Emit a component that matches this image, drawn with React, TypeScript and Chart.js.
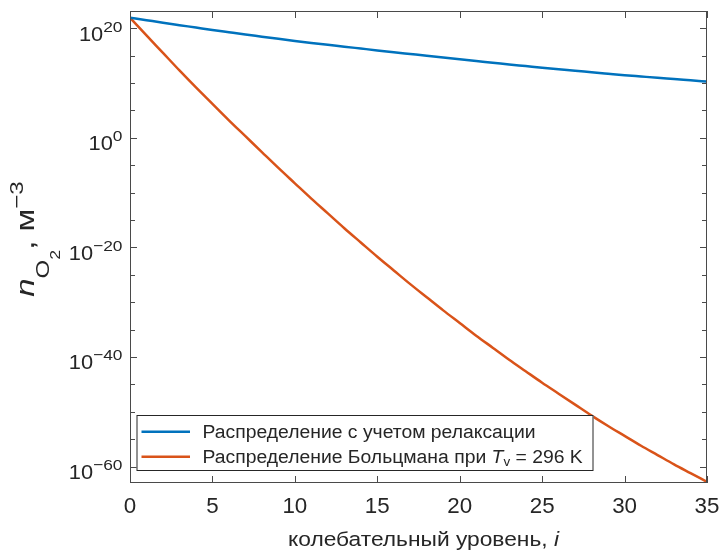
import React, { useEffect, useRef } from "react";
import { Chart, registerables } from "chart.js";

Chart.register(...registerables);

// Vibrational levels i
const levels = [
  0, 1, 2, 3, 4, 5, 6, 7, 8, 9, 10, 11, 12, 13, 14, 15, 16, 17, 18, 19, 20, 21, 22, 23, 24, 25, 26, 27,
  28, 29, 30, 31, 32, 33, 34, 35,
];

// Distribution with relaxation taken into account (m^-3)
const relaxedValues = [
  8.5e21, 2.95e21, 1.02e21, 3.7e20, 1.35e20, 4.9e19, 1.9e19, 7.4e18, 2.95e18, 1.17e18, 4.8e17, 2.1e17,
  9.5e16, 4.4e16, 2.0e16, 9.1e15, 4.3e15, 2.0e15, 9.3e14, 4.4e14, 2.1e14, 1.02e14, 5.1e13, 2.5e13,
  1.26e13, 6.3e12, 3.3e12, 1.8e12, 9.5e11, 5.1e11, 2.75e11, 1.58e11, 9.1e10, 5.4e10, 3.16e10, 1.86e10,
];

// Boltzmann distribution at Tv = 296 K (m^-3)
const boltzmannValues = [
  8.5e21, 5.0e18, 3.2e15, 2.0e12, 1.6e9, 1.6e6, 1.6e3, 2.0, 2.5e-3, 3.2e-6, 5.0e-9, 7.9e-12, 1.6e-14,
  3.2e-17, 7.9e-20, 2.0e-22, 6.3e-25, 2.0e-27, 7.9e-30, 3.2e-32, 1.6e-34, 7.9e-37, 5.0e-39, 3.2e-41,
  2.5e-43, 2.0e-45, 2.0e-47, 2.0e-49, 2.0e-51, 2.5e-53, 4.0e-55, 6.3e-57, 1.26e-58, 2.5e-60, 6.3e-62,
  1.6e-63,
];

const xTickValues = [0, 5, 10, 15, 20, 25, 30, 35];
const xTickLabels = ["0", "5", "10", "15", "20", "25", "30", "35"];
const yMajorTicks = [1e20, 1, 1e-20, 1e-40, 1e-60];
const yMajorExponents = ["20", "0", "\u221220", "\u221240", "\u221260"];
const yMinorTicks = [1e15, 1e10, 1e5, 1e-5, 1e-10, 1e-15, 1e-25, 1e-30, 1e-35, 1e-45, 1e-50, 1e-55];

const seriesLabels = ["Распределение с учетом релаксации", "Распределение Больцмана при "];
const xTitle = "колебательный уровень, ";

const BLUE = "#0072BD";
const ORANGE = "#D95319";
const TEXT = "#262626";
const AXIS = "#4a4a4a";
const FONT = '"Liberation Sans", Arial, Helvetica, sans-serif';

const f = (size: number, italic = false) => `${italic ? "italic " : ""}${size}px ${FONT}`;

// draws text horizontally stretched by sx, returns advance width
function stretchText(ctx: CanvasRenderingContext2D, text: string, x: number, y: number, sx: number) {
  ctx.save();
  ctx.translate(x, y);
  ctx.scale(sx, 1);
  ctx.fillText(text, 0, 0);
  ctx.restore();
  return ctx.measureText(text).width * sx;
}

const decorPlugin = {
  id: "matlabDecor",
  afterDraw(chart: any) {
    const { ctx, chartArea: a, scales } = chart;
    const xs = scales.x;
    const ys = scales.y;
    ctx.save();

    // axes box
    ctx.strokeStyle = AXIS;
    ctx.lineWidth = 1;
    ctx.strokeRect(a.left + 0.5, a.top + 0.5, a.right - a.left - 1, a.bottom - a.top - 1);

    // ticks (inward, all four sides)
    ctx.beginPath();
    xTickValues.forEach((v) => {
      const px = Math.round(xs.getPixelForValue(v)) + 0.5;
      ctx.moveTo(px, a.bottom);
      ctx.lineTo(px, a.bottom - 7);
      ctx.moveTo(px, a.top);
      ctx.lineTo(px, a.top + 7);
    });
    yMajorTicks.forEach((v) => {
      const py = Math.round(ys.getPixelForValue(v)) + 0.5;
      ctx.moveTo(a.left, py);
      ctx.lineTo(a.left + 7, py);
      ctx.moveTo(a.right, py);
      ctx.lineTo(a.right - 7, py);
    });
    yMinorTicks.forEach((v) => {
      const py = Math.round(ys.getPixelForValue(v)) + 0.5;
      ctx.moveTo(a.left, py);
      ctx.lineTo(a.left + 5, py);
      ctx.moveTo(a.right, py);
      ctx.lineTo(a.right - 5, py);
    });
    ctx.stroke();

    ctx.fillStyle = TEXT;
    ctx.textBaseline = "alphabetic";

    // x tick labels
    ctx.textAlign = "left";
    ctx.font = f(21.5);
    xTickValues.forEach((v, i) => {
      const w = ctx.measureText(xTickLabels[i]).width * 1.04;
      stretchText(ctx, xTickLabels[i], xs.getPixelForValue(v) - w / 2, a.bottom + 30.3, 1.04);
    });

    // y tick labels 10^k
    const ysx = 1.12;
    const rightEdge = a.left - 7.5;
    yMajorTicks.forEach((v, i) => {
      const py = ys.getPixelForValue(v);
      ctx.font = f(15.5);
      const supW = ctx.measureText(yMajorExponents[i]).width * ysx;
      ctx.font = f(19.5);
      const mainW = ctx.measureText("10").width * ysx;
      const x0 = rightEdge - supW - mainW;
      stretchText(ctx, "10", x0, py + 12.4, ysx);
      ctx.font = f(15.5);
      stretchText(ctx, yMajorExponents[i], x0 + mainW, py + 3.4, ysx);
    });

    // x title
    const xsx = 1.11;
    ctx.font = f(20.5);
    const tW = ctx.measureText(xTitle).width * xsx;
    ctx.font = f(20.5, true);
    const iW = ctx.measureText("i").width * xsx;
    const cx = (a.left + a.right) / 2 + 5;
    const tx0 = cx - (tW + iW) / 2;
    ctx.font = f(20.5);
    stretchText(ctx, xTitle, tx0, a.bottom + 62.5, xsx);
    ctx.font = f(20.5, true);
    stretchText(ctx, "i", tx0 + tW, a.bottom + 62.5, xsx);

    // y title (rotated)
    const parts = [
      { t: "n", font: f(26, true), dy: 0 },
      { t: "O", font: f(19), dy: 15 },
      { t: "2", font: f(14), dy: 26.5 },
      { t: ", м", font: f(26), dy: 0 },
      { t: "\u22123", font: f(19), dy: -11 },
    ];
    let total = 0;
    parts.forEach((p) => {
      ctx.font = p.font;
      total += ctx.measureText(p.t).width;
    });
    ctx.save();
    ctx.translate(33.5, (a.top + a.bottom) / 2 - 8);
    ctx.rotate(-Math.PI / 2);
    ctx.scale(1.27, 1);
    let px = -total / 2;
    parts.forEach((p) => {
      ctx.font = p.font;
      ctx.fillText(p.t, px, p.dy);
      px += ctx.measureText(p.t).width;
    });
    ctx.restore();

    // legend
    const lx = a.left + 6.5;
    const lb = a.bottom - 12;
    const lw = 457;
    const lh = 56;
    const lt = lb - lh;
    ctx.fillStyle = "#ffffff";
    ctx.fillRect(lx, lt, lw, lh);
    ctx.strokeStyle = TEXT;
    ctx.lineWidth = 1;
    ctx.strokeRect(lx + 0.5, lt + 0.5, lw - 1, lh - 1);
    const rows = [lt + 16.7, lt + 41.7];
    const colors = [BLUE, ORANGE];
    rows.forEach((ry, k) => {
      ctx.strokeStyle = colors[k];
      ctx.lineWidth = 2.5;
      ctx.beginPath();
      ctx.moveTo(lx + 5, ry);
      ctx.lineTo(lx + 53.5, ry);
      ctx.stroke();
    });
    ctx.fillStyle = TEXT;
    const textX = lx + 66;
    const lsx = 1.03;
    ctx.font = f(18.8);
    stretchText(ctx, seriesLabels[0], textX, rows[0] + 6.6, lsx);
    let sx = textX + stretchText(ctx, seriesLabels[1], textX, rows[1] + 6.6, lsx);
    ctx.font = f(18.8, true);
    sx += stretchText(ctx, "T", sx, rows[1] + 6.6, lsx);
    ctx.font = f(13);
    sx += stretchText(ctx, "v", sx, rows[1] + 9.5, lsx);
    ctx.font = f(18.8);
    stretchText(ctx, " = 296 K", sx, rows[1] + 6.6, lsx);

    ctx.restore();
  },
};

export default function App() {
  const ref = useRef<HTMLCanvasElement>(null);
  useEffect(() => {
    const chart = new Chart(ref.current as HTMLCanvasElement, {
      type: "line",
      data: {
        datasets: [
          {
            label: seriesLabels[0],
            data: levels.map((x, i) => ({ x, y: relaxedValues[i] })),
            borderColor: BLUE,
            backgroundColor: BLUE,
            borderWidth: 2.5,
            pointRadius: 0,
            cubicInterpolationMode: "monotone",
          },
          {
            label: seriesLabels[1] + "Tv = 296 K",
            data: levels.map((x, i) => ({ x, y: boltzmannValues[i] })),
            borderColor: ORANGE,
            backgroundColor: ORANGE,
            borderWidth: 2.5,
            pointRadius: 0,
            cubicInterpolationMode: "monotone",
          },
        ],
      },
      options: {
        responsive: false,
        animation: false,
        events: [],
        layout: { padding: { left: 0, top: 11, right: 14, bottom: 0 } },
        plugins: { legend: { display: false }, tooltip: { enabled: false } },
        scales: {
          x: {
            type: "linear",
            min: 0,
            max: 35,
            grid: { display: false },
            border: { display: false },
            ticks: { display: false },
            afterFit: (s: any) => {
              s.height = 69;
            },
          },
          y: {
            type: "logarithmic",
            min: 1.38e-63,
            max: 1.41e23,
            grid: { display: false },
            border: { display: false },
            ticks: { display: false },
            afterBuildTicks: (s: any) => {
              s.ticks = yMajorTicks.map((v) => ({ value: v }));
            },
            afterFit: (s: any) => {
              s.width = 130;
            },
          },
        },
      },
      plugins: [decorPlugin],
    } as any);
    return () => chart.destroy();
  }, []);
  return (
    <div style={{ position: "absolute", left: 0, top: 0, width: 721, height: 552, background: "#fff" }}>
      <canvas ref={ref} width={721} height={552} style={{ display: "block" }} />
    </div>
  );
}
